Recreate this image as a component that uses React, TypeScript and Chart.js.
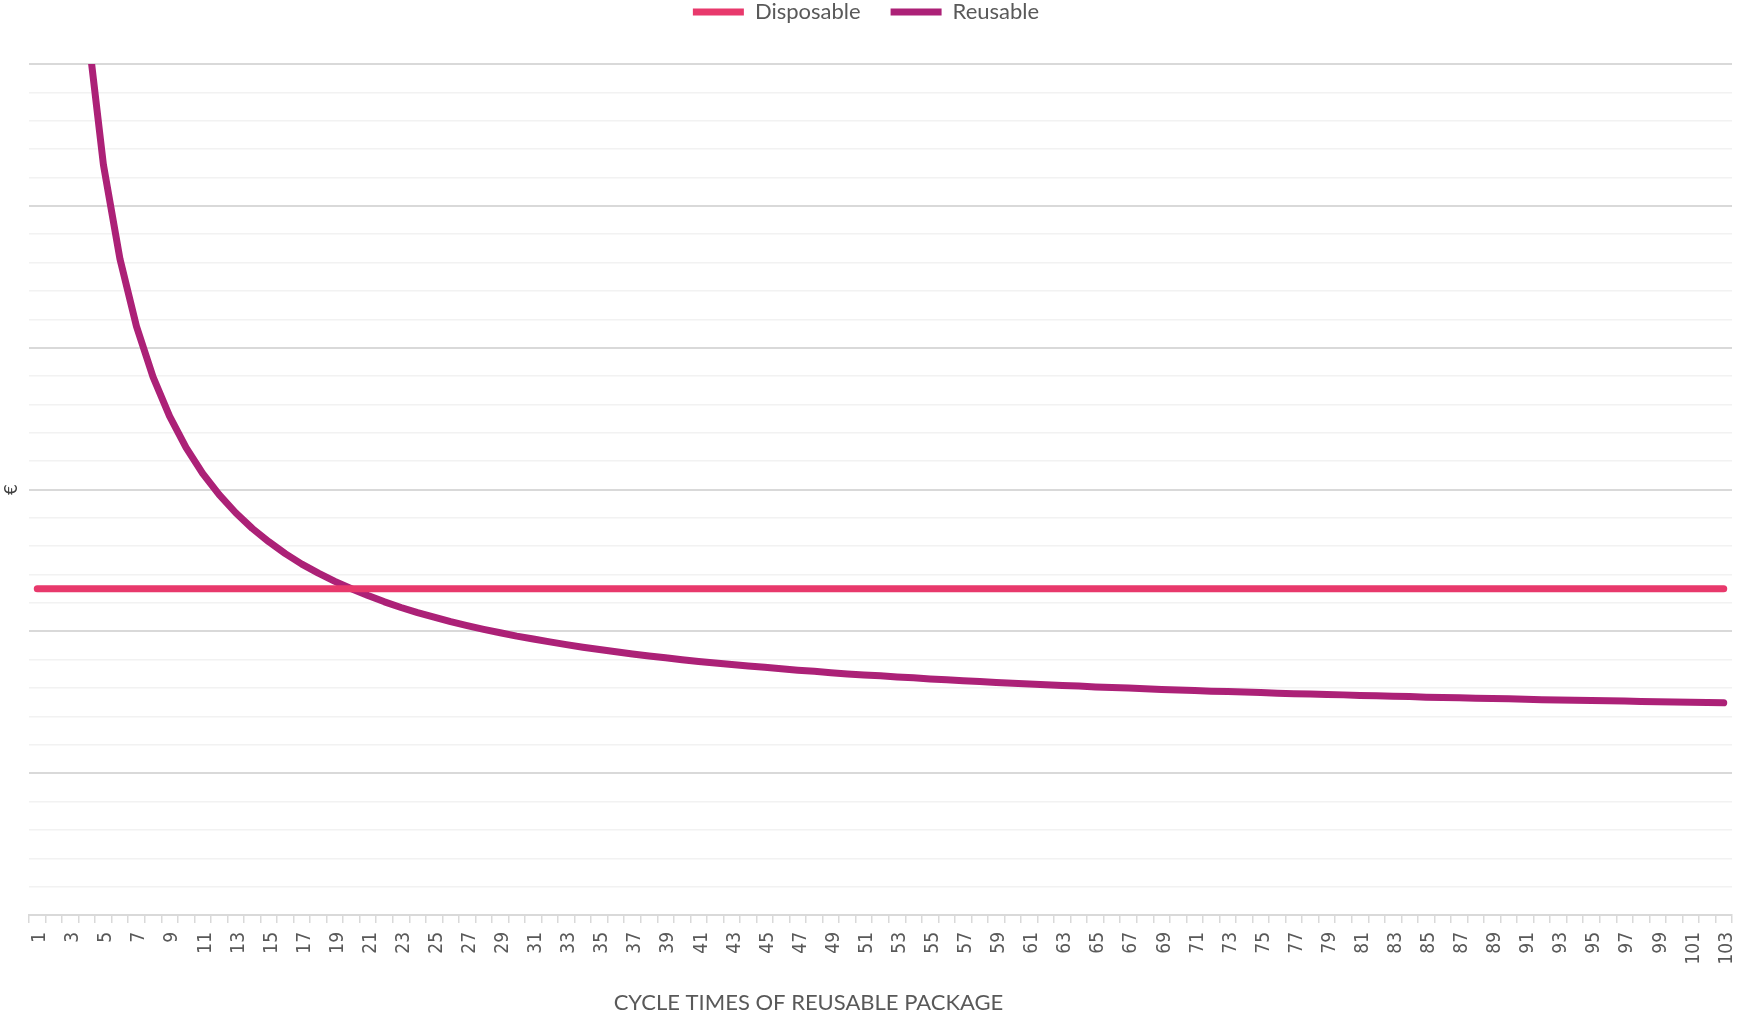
import React, { useEffect, useRef } from "react";
import { Chart, registerables } from "chart.js";

Chart.register(...registerables);

// Number of cycles the reusable package goes through
const cycles: string[] = Array.from({ length: 103 }, (_, i) => String(i + 1));

// Cost per use (€) of the disposable package
const disposable: number[] = [
  11.5, 11.5, 11.5, 11.5, 11.5, 11.5, 11.5, 11.5, 11.5, 11.5,
  11.5, 11.5, 11.5, 11.5, 11.5, 11.5, 11.5, 11.5, 11.5, 11.5,
  11.5, 11.5, 11.5, 11.5, 11.5, 11.5, 11.5, 11.5, 11.5, 11.5,
  11.5, 11.5, 11.5, 11.5, 11.5, 11.5, 11.5, 11.5, 11.5, 11.5,
  11.5, 11.5, 11.5, 11.5, 11.5, 11.5, 11.5, 11.5, 11.5, 11.5,
  11.5, 11.5, 11.5, 11.5, 11.5, 11.5, 11.5, 11.5, 11.5, 11.5,
  11.5, 11.5, 11.5, 11.5, 11.5, 11.5, 11.5, 11.5, 11.5, 11.5,
  11.5, 11.5, 11.5, 11.5, 11.5, 11.5, 11.5, 11.5, 11.5, 11.5,
  11.5, 11.5, 11.5, 11.5, 11.5, 11.5, 11.5, 11.5, 11.5, 11.5,
  11.5, 11.5, 11.5, 11.5, 11.5, 11.5, 11.5, 11.5, 11.5, 11.5,
  11.5, 11.5, 11.5,
];

// Cost per use (€) of the reusable package
const reusable: number[] = [
  106.21, 56.36, 39.74, 31.44, 26.45, 23.13, 20.75, 18.97, 17.59, 16.48,
  15.57, 14.82, 14.18, 13.63, 13.16, 12.74, 12.37, 12.05, 11.76, 11.5,
  11.26, 11.04, 10.84, 10.66, 10.5, 10.34, 10.2, 10.07, 9.95, 9.83,
  9.73, 9.63, 9.53, 9.44, 9.36, 9.28, 9.2, 9.13, 9.07, 9.0,
  8.94, 8.88, 8.83, 8.78, 8.73, 8.68, 8.63, 8.59, 8.54, 8.5,
  8.46, 8.43, 8.39, 8.36, 8.32, 8.29, 8.26, 8.23, 8.2, 8.17,
  8.14, 8.12, 8.09, 8.07, 8.04, 8.02, 8.0, 7.98, 7.95, 7.93,
  7.91, 7.89, 7.88, 7.86, 7.84, 7.82, 7.8, 7.79, 7.77, 7.76,
  7.74, 7.73, 7.71, 7.7, 7.68, 7.67, 7.66, 7.64, 7.63, 7.62,
  7.61, 7.59, 7.58, 7.57, 7.56, 7.55, 7.54, 7.53, 7.52, 7.51,
  7.5, 7.49, 7.48,
];

const seriesNames: string[] = ["Disposable", "Reusable"];
const xTitle = "CYCLE TIMES OF REUSABLE PACKAGE";
const yTitle = "€";

const TEXT = "#595959";
const UI_FONT = "Lato, 'Open Sans', sans-serif";

// Axis title drawn under the category labels
const xTitlePlugin = {
  id: "xTitle",
  afterDraw(chart: any) {
    const { ctx, chartArea } = chart;
    ctx.save();
    ctx.font = `22px ${UI_FONT}`;
    ctx.fillStyle = TEXT;
    ctx.textAlign = "center";
    ctx.textBaseline = "middle";
    const cx = (chartArea.left + chartArea.right) / 2 - 72;
    ctx.fillText(xTitle, cx, 1003);
    ctx.restore();
  },
};

export default function App() {
  const canvasRef = useRef<HTMLCanvasElement | null>(null);

  useEffect(() => {
    const canvas = canvasRef.current;
    if (!canvas) return;
    const chart = new Chart(canvas, {
      type: "line",
      data: {
        labels: cycles,
        datasets: [
          {
            label: seriesNames[0],
            data: disposable,
            xAxisID: "x",
            yAxisID: "y",
            borderColor: "#E8396C",
            backgroundColor: "#E8396C",
            borderWidth: 7,
            borderCapStyle: "round",
            borderJoinStyle: "round",
            pointRadius: 0,
            tension: 0,
          },
          {
            label: seriesNames[1],
            data: reusable,
            xAxisID: "x",
            yAxisID: "y",
            borderColor: "#AC2177",
            backgroundColor: "#AC2177",
            borderWidth: 7,
            borderCapStyle: "round",
            borderJoinStyle: "round",
            pointRadius: 0,
            tension: 0,
          },
        ],
      },
      options: {
        responsive: false,
        animation: false,
        layout: { padding: { top: -29, left: 0, right: 9, bottom: 0 } },
        plugins: {
          legend: {
            position: "top",
            align: "center",
            labels: {
              usePointStyle: true,
              pointStyle: "line",
              pointStyleWidth: 51,
              padding: 30,
              color: TEXT,
              font: { family: UI_FONT, size: 22 },
            },
          },
          tooltip: { enabled: false },
        },
        scales: {
          x: {
            type: "category",
            offset: true,
            grid: {
              display: true,
              drawOnChartArea: false,
              drawTicks: true,
              tickLength: 8,
              offset: true,
              color: "#d9d9d9",
              lineWidth: 1.5,
            },
            border: { display: true, color: "#d9d9d9", width: 2 },
            ticks: {
              autoSkip: false,
              minRotation: 90,
              maxRotation: 90,
              padding: 9,
              labelOffset: 3,
              color: TEXT,
              font: { family: "'DejaVu Sans Condensed', 'DejaVu Sans', sans-serif", size: 19 },
              callback(_v: any, idx: number) {
                return idx % 2 === 0 ? cycles[idx] : "";
              },
            },
            afterFit(s: any) {
              s.height = 99;
              s.paddingLeft = 0;
              s.paddingRight = 0;
            },
          },
          y: {
            type: "linear",
            min: 0,
            max: 30,
            grid: {
              drawTicks: false,
              color: (c: any) => (c.tick && c.tick.value % 5 === 0 ? "#d9d9d9" : "#f2f2f2"),
              lineWidth: (c: any) => (c.tick && c.tick.value % 5 === 0 ? 2 : 1.5),
            },
            border: { display: false },
            ticks: { display: false, stepSize: 1 },
            title: {
              display: true,
              text: yTitle,
              color: "#404040",
              padding: { top: 2, bottom: 2 },
              font: { family: "'DejaVu Sans', sans-serif", size: 17 },
            },
            afterFit(s: any) {
              s.width = 29;
            },
          },
          // empty band between the legend and the plot area
          spacer: {
            type: "linear",
            position: "top",
            axis: "x",
            display: true,
            grid: { display: false, drawTicks: false },
            border: { display: false },
            ticks: { display: false },
            afterFit(s: any) {
              s.height = 31;
            },
          },
        },
      },
      plugins: [xTitlePlugin],
    } as any);
    return () => chart.destroy();
  }, []);

  return (
    <div style={{ position: "absolute", left: 0, top: 0, width: 1741, height: 1014, background: "#fff" }}>
      <canvas ref={canvasRef} width={1741} height={1014} style={{ display: "block" }} />
    </div>
  );
}
